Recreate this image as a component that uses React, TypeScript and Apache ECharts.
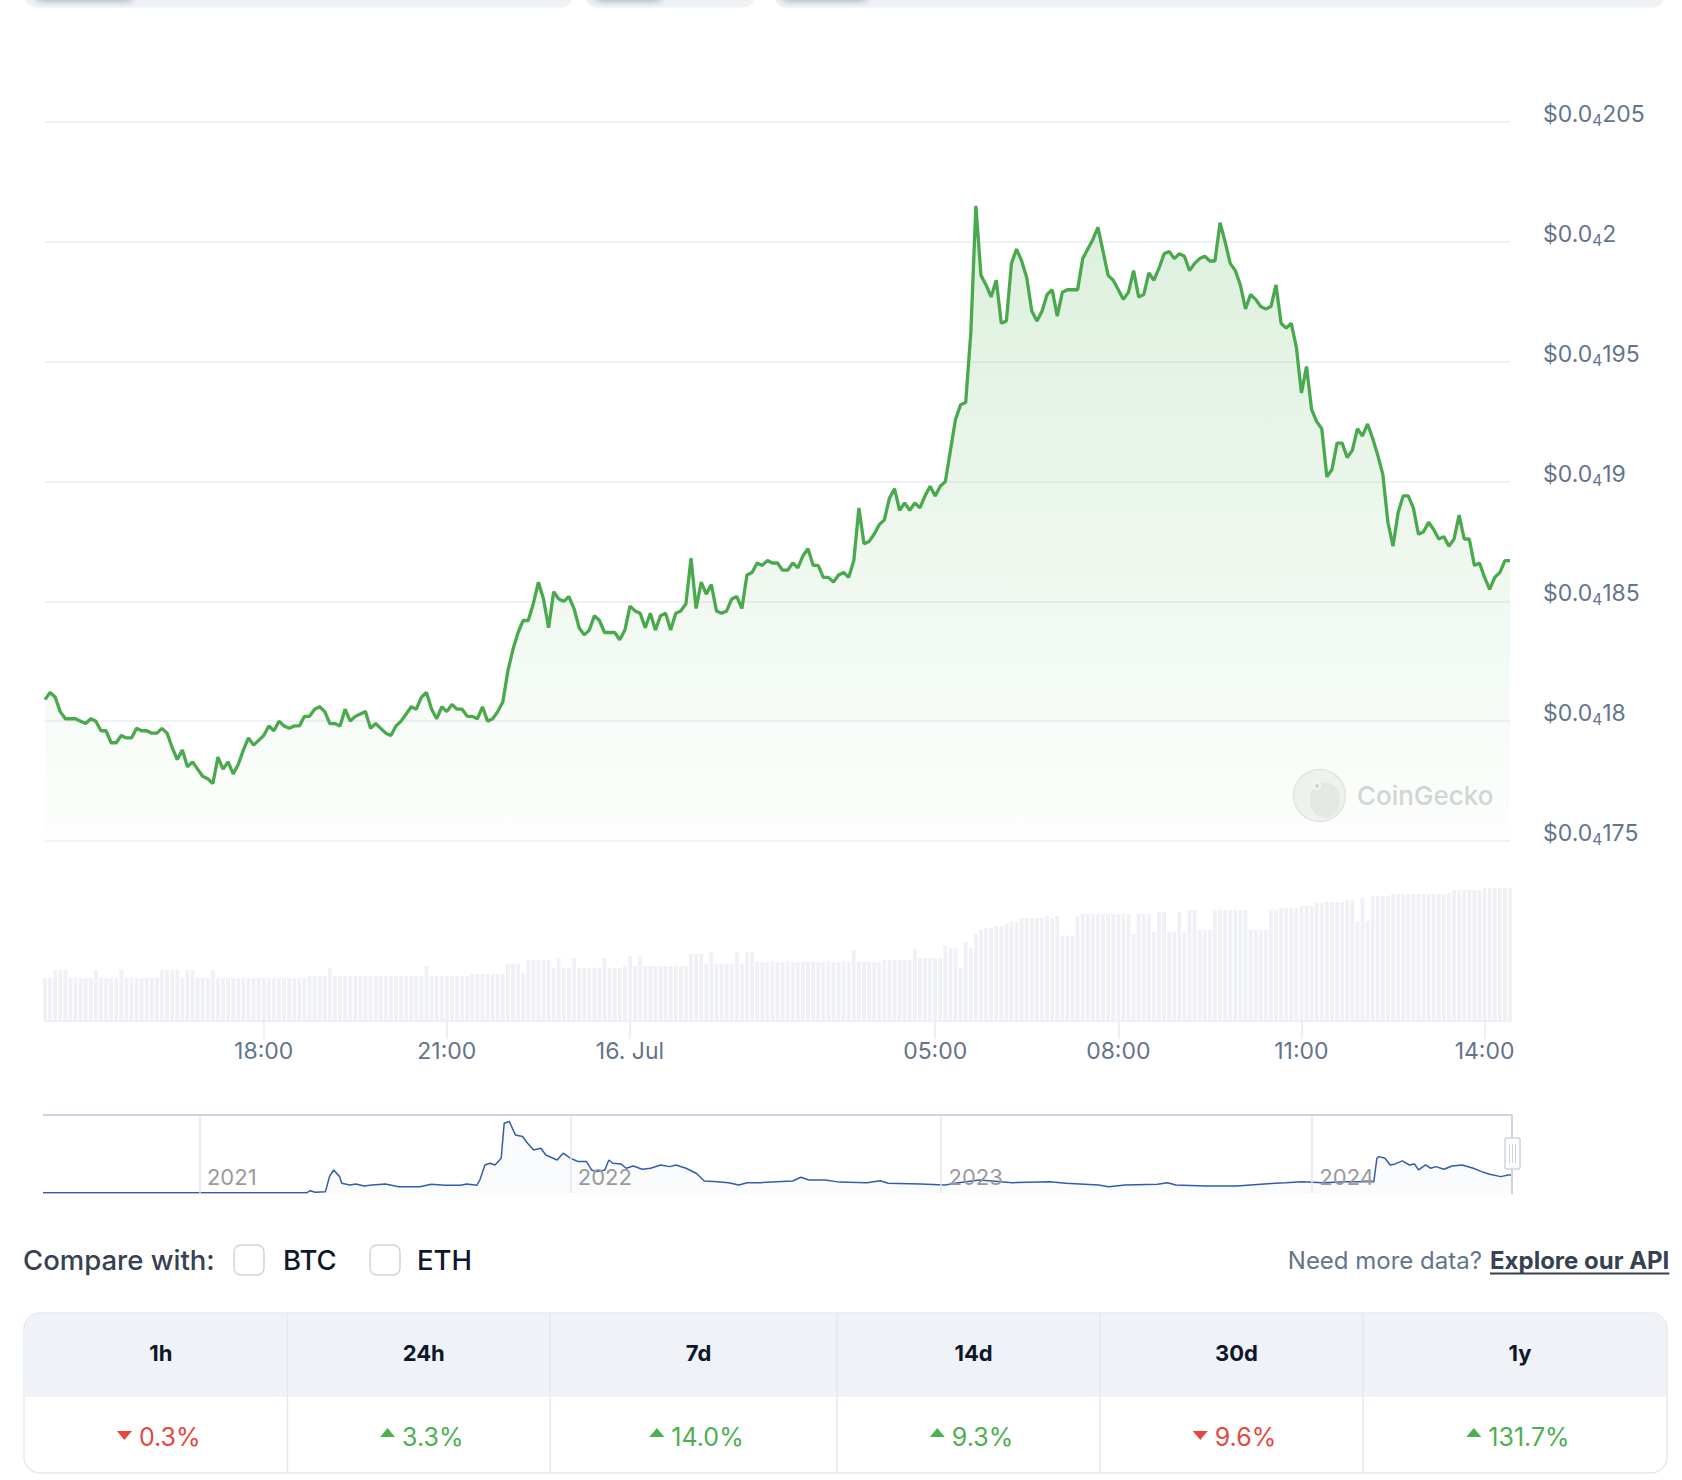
import React, { useEffect, useRef } from "react";
import * as echarts from "echarts";

// Price in micro-USD (1e-6 USD), one sample every 5 minutes, 15 Jul 14:25 -> 16 Jul 14:25
const PRICE_MICRO_USD: number[] = [
  18.09, 18.12, 18.10, 18.04, 18.01, 18.01, 18.01, 18.00, 17.99, 18.01,
  18.00, 17.96, 17.96, 17.91, 17.91, 17.94, 17.93, 17.93, 17.97, 17.96,
  17.96, 17.95, 17.95, 17.97, 17.95, 17.89, 17.84, 17.88, 17.81, 17.83,
  17.80, 17.77, 17.76, 17.74, 17.85, 17.80, 17.83, 17.78, 17.82, 17.88,
  17.93, 17.90, 17.92, 17.94, 17.98, 17.96, 18.00, 17.98, 17.97, 17.98,
  17.98, 18.02, 18.02, 18.05, 18.06, 18.04, 17.99, 17.99, 17.98, 18.05,
  18.00, 18.02, 18.03, 18.04, 17.97, 17.99, 17.97, 17.95, 17.94, 17.98,
  18.00, 18.03, 18.06, 18.05, 18.10,
  18.12, 18.05, 18.01, 18.06, 18.04, 18.07, 18.05, 18.05, 18.02, 18.02,
  18.01, 18.06, 18.00, 18.01, 18.04, 18.08, 18.21, 18.30, 18.37, 18.42,
  18.42, 18.49, 18.58, 18.51, 18.39, 18.54, 18.51, 18.50, 18.52, 18.47,
  18.39, 18.36, 18.38, 18.44, 18.42, 18.37, 18.37, 18.37, 18.34, 18.38,
  18.48, 18.46, 18.45, 18.39, 18.45, 18.38, 18.44, 18.45, 18.38, 18.45,
  18.46, 18.49, 18.68, 18.47, 18.58, 18.53, 18.57, 18.46, 18.45, 18.46,
  18.51, 18.52, 18.47, 18.61, 18.62, 18.66, 18.65, 18.67, 18.66, 18.66,
  18.63, 18.63, 18.66,
  18.64, 18.69, 18.72, 18.65, 18.65, 18.60, 18.60, 18.58, 18.61, 18.62,
  18.60, 18.67, 18.89, 18.74, 18.75, 18.78, 18.82, 18.84, 18.93, 18.97,
  18.88, 18.91, 18.88, 18.91, 18.89, 18.94, 18.98, 18.94, 18.98, 19.00,
  19.13, 19.26, 19.32, 19.33, 19.62, 20.15, 19.86, 19.82, 19.77, 19.84,
  19.66, 19.67, 19.91, 19.97, 19.92, 19.85, 19.71, 19.67, 19.71, 19.78,
  19.80, 19.69, 19.79, 19.80, 19.80, 19.80, 19.93, 19.97, 20.01, 20.06,
  19.96, 19.86, 19.84, 19.80, 19.76, 19.79, 19.88, 19.77, 19.78, 19.87,
  19.84, 19.89, 19.95, 19.96, 19.93, 19.95, 19.94, 19.88, 19.91, 19.93,
  19.94, 19.92, 19.92, 20.08, 20.00, 19.91, 19.88, 19.82, 19.72, 19.78,
  19.76, 19.73, 19.72, 19.73, 19.82, 19.66, 19.64, 19.66, 19.56, 19.37,
  19.48, 19.30, 19.25, 19.22, 19.02, 19.05, 19.16, 19.16, 19.10, 19.13,
  19.22, 19.19, 19.24, 19.18, 19.11, 19.03, 18.83, 18.73, 18.87, 18.94,
  18.94, 18.89, 18.78, 18.79, 18.83, 18.80, 18.76, 18.77, 18.73, 18.76,
  18.86, 18.76, 18.76, 18.65, 18.66, 18.60, 18.55, 18.60, 18.62, 18.67,
  18.67,
];

// Trading volume per sample (relative units)
const VOLUME: number[] = [
  43, 43, 51, 51, 51, 43, 43, 43, 43, 43,
  51, 43, 43, 43, 43, 51, 43, 43, 43, 43,
  43, 43, 43, 51, 51, 51, 51, 43, 51, 51,
  43, 43, 43, 51, 43, 43, 43, 43, 43, 43,
  43, 43, 43, 43, 43, 43, 43, 43, 43, 43,
  43, 43, 45, 45, 45, 45, 53, 45, 45, 45,
  45, 45, 45, 45, 45, 45, 45, 45, 45, 45,
  45, 45, 45, 45, 45, 55, 45, 45, 45, 45,
  45, 45, 45, 45, 47, 47, 47, 47, 47, 47,
  47, 57, 57, 57, 48, 61, 61, 61, 61, 61,
  53, 63, 53, 53, 63, 53, 53, 53, 53, 53,
  63, 53, 53, 53, 55, 65, 55, 65, 55, 55,
  55, 55, 55, 55, 55, 55, 55, 67, 67, 67,
  57, 69, 57, 57, 57, 57, 69, 57, 69, 69,
  59, 59, 59, 59, 59, 59, 59, 59, 59, 59,
  59, 59, 59, 59, 59, 59, 59, 59, 59, 71,
  59, 59, 59, 59, 59, 61, 61, 61, 61, 61,
  61, 72, 63, 63, 63, 63, 63, 75, 73, 73,
  53, 79, 73, 87, 91, 93, 93, 95, 95, 97,
  99, 99, 103, 103, 103, 103, 103, 105, 103, 105,
  85, 85, 85, 105, 107, 107, 107, 107, 107, 107,
  107, 107, 107, 107, 87, 107, 107, 107, 89, 109,
  109, 89, 89, 109, 89, 111, 111, 91, 91, 91,
  111, 111, 111, 111, 111, 111, 111, 91, 91, 91,
  91, 111, 111, 113, 113, 113, 113, 115, 115, 115,
  118, 118, 119, 119, 119, 119, 121, 121, 99, 123,
  100, 125, 125, 125, 125, 127, 127, 127, 127, 127,
  127, 127, 127, 127, 127, 127, 128, 131, 131, 131,
  131, 131, 131, 133, 133, 133, 133, 133, 133,
];

const START_DAY = 15;
const START_MINUTE_OF_DAY = 14 * 60 + 25;
const STEP_MINUTES = 5;
const MONTH = "Jul";
const X_TICK_LABELS = ["18:00", "21:00", "16. Jul", "05:00", "08:00", "11:00", "14:00"];

const Y_MIN = 17.5;
const Y_MAX = 20.5;
const Y_STEP = 0.5;

// Navigator (all-time) series, micro-USD
const NAV_DATES = [
  "2020-07-31", "2021-04-17", "2021-04-20", "2021-04-25", "2021-05-05", "2021-05-09", "2021-05-13", "2021-05-19", "2021-05-21", "2021-05-29",
  "2021-06-04", "2021-06-12", "2021-06-20", "2021-07-03", "2021-07-16", "2021-08-06", "2021-08-17", "2021-08-30", "2021-09-15", "2021-09-21",
  "2021-10-01", "2021-10-04", "2021-10-09", "2021-10-14", "2021-10-19", "2021-10-25", "2021-10-28", "2021-11-02", "2021-11-08", "2021-11-15",
  "2021-11-20", "2021-11-26", "2021-12-03", "2021-12-08", "2021-12-19", "2021-12-25", "2022-01-01", "2022-01-09", "2022-01-17", "2022-01-22",
  "2022-01-27", "2022-02-04", "2022-02-08", "2022-02-12", "2022-02-20", "2022-02-25", "2022-03-04", "2022-03-13", "2022-03-21", "2022-03-31",
  "2022-04-09", "2022-04-15", "2022-04-25", "2022-05-05", "2022-05-13", "2022-05-26", "2022-06-06", "2022-06-16", "2022-06-24", "2022-07-07",
  "2022-07-23", "2022-08-08", "2022-08-16", "2022-08-24", "2022-09-09", "2022-09-23", "2022-10-20", "2022-11-02", "2022-11-10", "2022-12-12",
  "2023-01-05", "2023-01-18", "2023-02-08", "2023-03-01", "2023-03-12", "2023-04-18", "2023-05-04", "2023-06-05", "2023-06-15", "2023-07-01",
  "2023-08-02", "2023-08-12", "2023-08-20", "2023-09-18", "2023-10-19", "2023-11-15", "2023-12-06", "2023-12-22", "2024-01-12", "2024-02-02",
  "2024-02-23", "2024-03-02", "2024-03-05", "2024-03-07", "2024-03-13", "2024-03-18", "2024-03-23", "2024-03-30", "2024-04-06", "2024-04-11",
  "2024-04-15", "2024-04-22", "2024-04-27", "2024-05-02", "2024-05-10", "2024-05-18", "2024-05-28", "2024-06-08", "2024-06-16", "2024-06-24",
  "2024-07-05", "2024-07-12", "2024-07-15",
];
const NAV_PRICE_MICRO_USD = [
  0.3, 0.3, 2.4, 0.7, 1.4, 17.0, 23.9, 17.0, 10.1, 8.3,
  9.4, 7.3, 8.3, 9.4, 6.6, 6.6, 9.0, 8.0, 8.0, 9.4,
  8.0, 13.5, 29.1, 30.9, 29.1, 36.1, 72.5, 74.2, 60.3, 58.6,
  51.7, 44.7, 46.5, 39.5, 34.3, 41.3, 36.1, 32.6, 32.6, 23.9,
  22.2, 23.9, 34.3, 30.9, 30.2, 25.7, 28.1, 24.6, 25.7, 29.1,
  27.4, 29.1, 25.7, 20.5, 12.5, 11.8, 10.7, 8.3, 10.7, 10.7,
  11.8, 12.5, 16.3, 13.5, 13.5, 11.3, 10.7, 12.8, 10.1, 9.4,
  8.3, 10.7, 13.5, 11.8, 10.7, 11.8, 10.1, 8.3, 6.6, 8.3,
  9.0, 10.7, 8.3, 7.3, 7.3, 9.4, 10.7, 11.8, 10.7, 11.8,
  11.8, 11.8, 36.1, 37.8, 36.1, 29.1, 30.2, 33.3, 29.1, 30.2,
  23.9, 29.1, 25.7, 27.4, 24.6, 28.1, 29.1, 25.7, 22.2, 19.4,
  17.0, 18.7, 18.7,
];
const NAV_START = "2020-07-31";
const NAV_END = "2024-07-16";
const YEAR_LABELS = ["2021", "2022", "2023", "2024"];

const PERIODS = ["1h", "24h", "7d", "14d", "30d", "1y"];
const CHANGES_PCT = [-0.3, 3.3, 14.0, 9.3, -9.6, 131.7];

const FONT = "Inter, 'Noto Sans', 'DejaVu Sans', sans-serif";
const SLATE = "#64748b";
const GREEN = "#4caf50";
const RED = "#e5483e";

function categoryLabel(i: number): string {
  const total = START_MINUTE_OF_DAY + i * STEP_MINUTES;
  const day = START_DAY + Math.floor(total / 1440);
  const m = total % 1440;
  if (m === 0) return `${day}. ${MONTH}`;
  const hh = String(Math.floor(m / 60)).padStart(2, "0");
  const mm = String(m % 60).padStart(2, "0");
  return `${hh}:${mm}`;
}

function measure(text: string, font: string): number {
  const c = document.createElement("canvas").getContext("2d");
  if (!c) return text.length * 12;
  c.font = font;
  return c.measureText(text).width;
}

function buildGraphics(): any[] {
  const g: any[] = [];
  // cut-off tab bar at the very top
  const tabs = [
    [25, 547],
    [586, 168],
    [775, 889],
  ];
  tabs.forEach(([x, w]) => {
    g.push({ type: "rect", shape: { x, y: -30, width: w, height: 37.5, r: 10 }, style: { fill: "#eff2f5" }, z: 1 });
  });
  const btns = [
    [35, 99],
    [593, 70],
    [781, 88],
  ];
  btns.forEach(([x, w]) => {
    g.push({
      type: "rect",
      shape: { x, y: -40, width: w, height: 40, r: 8 },
      style: { fill: "#eff2f5", shadowBlur: 6, shadowColor: "rgba(30,41,59,0.35)", shadowOffsetY: 1 },
      z: 2,
    });
  });

  // CoinGecko watermark
  g.push({ type: "circle", shape: { cx: 1319.5, cy: 795.5, r: 26 }, style: { fill: "#f3f3f3", stroke: "#e6e6e6", lineWidth: 1.5 }, z: 1 });
  g.push({ type: "ellipse", shape: { cx: 1325, cy: 800, rx: 15, ry: 18 }, style: { fill: "#e9e9e9" }, z: 1 });
  g.push({ type: "circle", shape: { cx: 1317, cy: 786, r: 4 }, style: { fill: "#f8f8f8" }, z: 1 });
  g.push({ type: "circle", shape: { cx: 1317, cy: 786, r: 2 }, style: { fill: "#d6d6d6" }, z: 1 });
  g.push({
    type: "text", x: 1357, y: 795, z: 1,
    style: { text: "CoinGecko", fill: "#d6d6d6", fontSize: 26, fontWeight: 500, fontFamily: FONT, align: "left", verticalAlign: "middle" },
  });

  // navigator outline + handle
  g.push({ type: "line", shape: { x1: 43, y1: 1115, x2: 1512, y2: 1115 }, style: { stroke: "#cbd5e1", lineWidth: 2 }, z: 5 });
  g.push({ type: "line", shape: { x1: 1512, y1: 1115, x2: 1512, y2: 1194 }, style: { stroke: "#cbd5e1", lineWidth: 2 }, z: 5 });
  g.push({ type: "rect", shape: { x: 1505, y: 1138, width: 15, height: 31, r: 2 }, style: { fill: "#ffffff", stroke: "#cbd5e1", lineWidth: 1.5 }, z: 6 });
  [1509.5, 1512.5, 1515.5].forEach((x) => {
    g.push({ type: "line", shape: { x1: x, y1: 1144, x2: x, y2: 1163 }, style: { stroke: "#cbd5e1", lineWidth: 1 }, z: 7 });
  });

  // compare row
  g.push({ type: "text", x: 23, y: 1260, style: { text: "Compare with:", fill: "#364152", fontSize: 27.5, fontFamily: FONT, fontWeight: 500, align: "left", verticalAlign: "middle" } });
  [[234, "BTC", 283], [370, "ETH", 417]].forEach(([bx, label, tx]) => {
    g.push({ type: "rect", shape: { x: bx as number, y: 1245, width: 30, height: 30, r: 7 }, style: { fill: "#ffffff", stroke: "#cdd5df", lineWidth: 1.5 } });
    g.push({ type: "text", x: tx as number, y: 1260, style: { text: label, fill: "#0f172a", fontSize: 27.5, fontFamily: FONT, fontWeight: 500, align: "left", verticalAlign: "middle" } });
  });
  g.push({ type: "text", x: 1482, y: 1260, style: { text: "Need more data?", fill: SLATE, fontSize: 24, fontFamily: FONT, align: "right", verticalAlign: "middle" } });
  g.push({ type: "text", x: 1490, y: 1260, style: { text: "Explore our API", fill: "#364152", fontSize: 24, fontFamily: FONT, fontWeight: 700, align: "left", verticalAlign: "middle" } });
  const apiW = measure("Explore our API", `700 24px ${FONT}`);
  g.push({ type: "line", shape: { x1: 1490, y1: 1273.5, x2: 1490 + apiW, y2: 1273.5 }, style: { stroke: "#364152", lineWidth: 2 } });

  // percentage table
  const edges = [24, 287.5, 550, 837, 1100, 1363, 1667];
  const top = 1313;
  const headH = 83;
  const bottom = 1473;
  g.push({ type: "rect", shape: { x: edges[0], y: top, width: edges[6] - edges[0], height: bottom - top, r: 16 }, style: { fill: "#ffffff", stroke: "#e5e9ef", lineWidth: 1.5 } });
  g.push({ type: "rect", shape: { x: edges[0] + 0.75, y: top + 0.75, width: edges[6] - edges[0] - 1.5, height: headH, r: [16, 16, 0, 0] }, style: { fill: "#eff2f6" } });
  for (let i = 1; i < 6; i++) {
    g.push({ type: "line", shape: { x1: edges[i], y1: top, x2: edges[i], y2: bottom }, style: { stroke: "#e5e9ef", lineWidth: 1.5 } });
  }
  const valueFont = `400 25px ${FONT}`;
  PERIODS.forEach((p, i) => {
    const cx = (edges[i] + edges[i + 1]) / 2 + 5;
    g.push({ type: "text", x: cx, y: 1353, style: { text: p, fill: "#0f172a", fontSize: 22, fontWeight: 700, fontFamily: FONT, align: "center", verticalAlign: "middle" } });
    const ch = CHANGES_PCT[i];
    const up = ch >= 0;
    const txt = `${Math.abs(ch).toFixed(1)}%`;
    const tw = measure(txt, valueFont);
    const triW = 15;
    const gap = 7;
    const total = triW + gap + tw;
    const x0 = cx - 2 - total / 2;
    const col = up ? GREEN : RED;
    const pts = up
      ? [[x0, 1437], [x0 + triW, 1437], [x0 + triW / 2, 1428]]
      : [[x0, 1431], [x0 + triW, 1431], [x0 + triW / 2, 1440]];
    g.push({ type: "polygon", shape: { points: pts }, style: { fill: col } });
    g.push({ type: "text", x: x0 + triW + gap, y: 1437, style: { text: txt, fill: col, fontSize: 25, fontFamily: FONT, align: "left", verticalAlign: "middle" } });
  });
  return g;
}

export default function App() {
  const ref = useRef<HTMLDivElement>(null);

  useEffect(() => {
    if (!ref.current) return;
    const chart = echarts.init(ref.current, undefined, { renderer: "svg" });
    const categories = PRICE_MICRO_USD.map((_, i) => categoryLabel(i));
    const isTick = (_i: number, value: string) => X_TICK_LABELS.includes(value);
    const navData = NAV_DATES.map((d, i) => [Date.parse(d), NAV_PRICE_MICRO_USD[i]]);

    const yLabel = (v: number) => {
      const digits = String(Math.round(v * 10)).replace(/0+$/, "");
      return `{a|$0.0}{s|4}{a|${digits}}`;
    };

    chart.setOption({
      animation: false,
      backgroundColor: "#ffffff",
      textStyle: { fontFamily: FONT },
      grid: [
        { left: 45, right: 172, top: 122, height: 719 },
        { left: 45, right: 172, top: 880, height: 141 },
        { left: 43, right: 170, top: 1115, height: 78 },
      ],
      xAxis: [
        {
          type: "category", gridIndex: 0, data: categories, boundaryGap: false,
          axisLine: { show: false }, axisTick: { show: false }, axisLabel: { show: false }, splitLine: { show: false },
        },
        {
          type: "category", gridIndex: 1, data: categories, boundaryGap: false,
          axisLine: { show: true, lineStyle: { color: "#e8eaf0", width: 1.5 } },
          axisTick: { show: true, interval: isTick, length: 18, lineStyle: { color: "#e8eaf0", width: 1.5 } },
          axisLabel: { interval: isTick, color: SLATE, fontSize: 23, fontFamily: FONT, margin: 18 },
          splitLine: { show: false },
        },
        {
          type: "time", gridIndex: 2, min: Date.parse(NAV_START), max: Date.parse(NAV_END),
          axisLine: { show: false }, axisTick: { show: false }, axisLabel: { show: false }, splitLine: { show: false },
        },
      ],
      yAxis: [
        {
          type: "value", gridIndex: 0, position: "right", min: Y_MIN, max: Y_MAX, interval: Y_STEP,
          axisLine: { show: false }, axisTick: { show: false },
          splitLine: { lineStyle: { color: "#f0f1f5", width: 2 } },
          axisLabel: {
            margin: 33,
            formatter: yLabel,
            padding: [0, 0, 16, 0],
            rich: {
              a: { fontSize: 23, color: SLATE, fontFamily: FONT, lineHeight: 26 },
              s: { fontSize: 15.5, color: SLATE, fontFamily: FONT, lineHeight: 15, padding: [13, 0, 0, 0] },
            },
          },
        },
        { type: "value", gridIndex: 1, min: 0, max: 141, show: false },
        { type: "value", gridIndex: 2, min: 0, max: 81, show: false },
      ],
      series: [
        {
          name: "Volume", type: "bar", xAxisIndex: 1, yAxisIndex: 1, data: VOLUME,
          barWidth: 3.8, itemStyle: { color: "#eff1f5" }, silent: true,
        },
        {
          name: "Price", type: "line", xAxisIndex: 0, yAxisIndex: 0, data: PRICE_MICRO_USD,
          symbol: "none", lineStyle: { color: "#4aa84d", width: 3.3 }, z: 3,
          areaStyle: {
            color: new echarts.graphic.LinearGradient(0, 0, 0, 1, [
              { offset: 0, color: "rgba(76,175,80,0.28)" },
              { offset: 1, color: "rgba(76,175,80,0.015)" },
            ]),
          },
        },
        {
          name: "All time", type: "line", xAxisIndex: 2, yAxisIndex: 2, data: navData,
          symbol: "none", lineStyle: { color: "#335cad", width: 1.5 },
          areaStyle: { color: "rgba(51,92,173,0.035)" },
          markLine: {
            silent: true, symbol: ["none", "none"],
            label: { show: false },
            lineStyle: { color: "#e3e6ea", width: 1.5, type: "solid" },
            data: YEAR_LABELS.map((y) => ({ xAxis: Date.parse(`${y}-01-01`) })),
          },
          markPoint: {
            silent: true, symbol: "circle", symbolSize: 1,
            itemStyle: { color: "rgba(0,0,0,0)" },
            label: { show: true, position: "right", distance: 7, color: "#9a9a9a", fontSize: 22, fontFamily: FONT, formatter: (p: any) => p.name },
            data: YEAR_LABELS.map((y) => ({ name: y, coord: [Date.parse(`${y}-01-01`), 16.5] })),
          },
        },
      ],
      graphic: buildGraphics(),
    });
    return () => chart.dispose();
  }, []);

  return <div ref={ref} style={{ position: "absolute", left: 0, top: 0, width: 1682, height: 1480 }} />;
}
